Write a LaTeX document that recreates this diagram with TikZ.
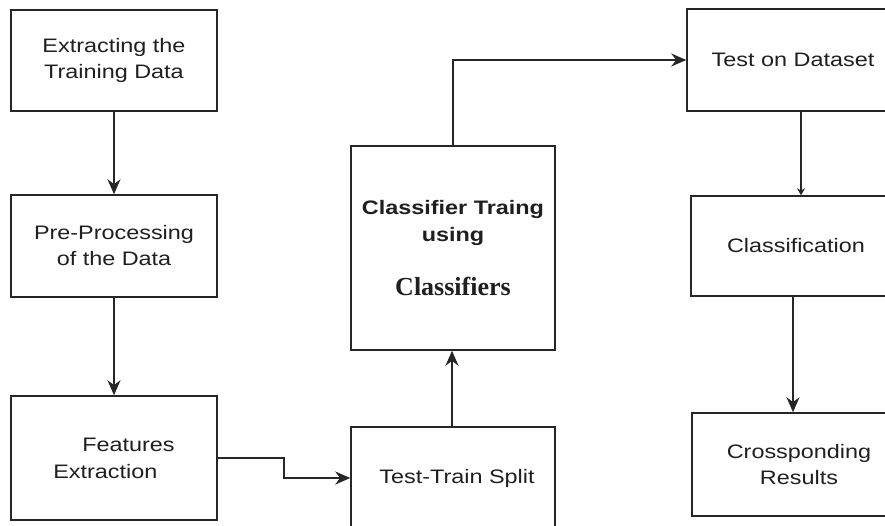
\documentclass[tikz,border=0pt]{standalone}
\usepackage{fontspec}
\setmainfont{Liberation Sans}[FakeStretch=1.2]
\newfontfamily\serifb{Liberation Serif}
\usetikzlibrary{arrows.meta,calc}
\begin{document}
\begin{tikzpicture}[x=1pt,y=-1pt,
  box/.style={draw=black!85,line width=1.5pt,inner sep=0pt,align=center,
    text=black!88,font=\fontsize{19.5}{26}\selectfont},
  arr/.style={draw=black!85,line width=1.5pt,-{Stealth[length=15pt,width=13pt]}},
  arrsmall/.style={draw=black!85,line width=1.5pt,-{Stealth[length=7pt,width=8pt]}}]
\useasboundingbox (0,0) rectangle (885,526);
\clip (0,0) rectangle (885,526);
\fill[white] (0,0) rectangle (885,526);
% left column
\node[box,minimum width=206pt,minimum height=101pt] (b1) at (114,60.5) {Extracting the\\Training Data};
\node[box,minimum width=206pt,minimum height=102pt] (b2) at (114,246) {Pre-Processing\\of the Data};
\node[box,minimum width=206pt,minimum height=124pt,align=left,font=\fontsize{19.5}{27}\selectfont] (b3) at (114,458) {\kern29pt Features\\Extraction};
% middle column
\node[box,minimum width=204pt,minimum height=204pt,font=\fontsize{19.5}{27}\selectfont\bfseries] (ct) at (453,248)
  {Classifier Traing\\using\\[27pt]{\serifb\fontsize{26}{27}\selectfont Classifiers}};
\node[box,minimum width=204pt,minimum height=118pt,text depth=0pt] (tts) at (453,486) {};
\node[text=black!88,font=\fontsize{19.5}{26}\selectfont,inner sep=0pt,anchor=base] (ttsl) at (457,483) {Test-Train Split};
% right column
\node[box,minimum width=212pt,minimum height=102pt] (tod) at (793,60) {Test on Dataset};
\node[box,minimum width=210pt,minimum height=100pt] (cls) at (796,246) {Classification};
\node[box,minimum width=214pt,minimum height=103pt] (cr) at (799,464.5) {Crossponding\\Results};
% connectors
\draw[arr] (b1.south) -- (b2.north);
\draw[arr] (b2.south) -- (b3.north);
\draw[arr] (b3.east) -- ++(66,0) |- ([yshift=8pt]tts.west);
\draw[arr] ([xshift=-1pt]tts.north) -- ([xshift=-1pt]ct.south);
\draw[arr] (ct.north) |- (tod.west);
\draw[arrsmall] ([xshift=8pt]tod.south) -- ([xshift=8pt]tod.south |- cls.north);
\draw[arr] ([xshift=-3pt]cls.south) -- ([xshift=-3pt]cls.south |- cr.north);
\end{tikzpicture}
\end{document}
